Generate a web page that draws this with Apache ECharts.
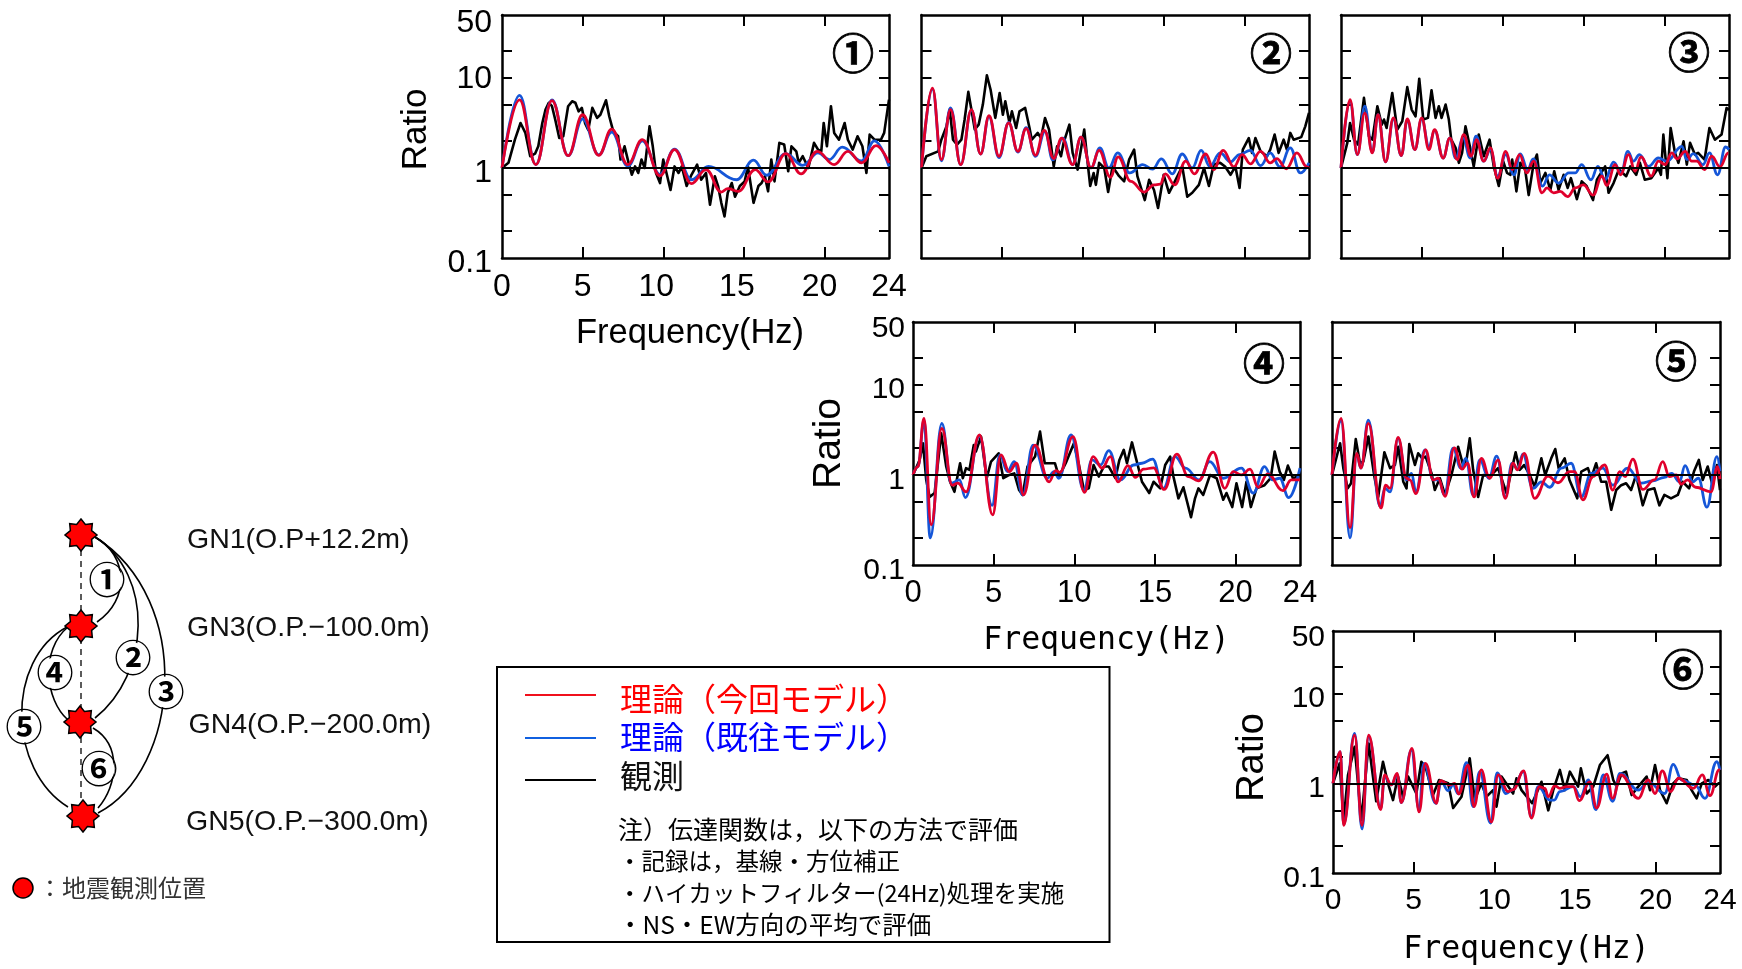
<!DOCTYPE html>
<html>
<head>
<meta charset="utf-8">
<style>html,body{margin:0;padding:0;background:#fff}#c{width:1742px;height:969px}</style>
<script src="https://cdn.jsdelivr.net/npm/echarts@6/dist/echarts.min.js"></script>
</head>
<body>
<div id="c"></div>
<script>
const xLabels = [0,5,10,15,20,24];
const xTicks = [5,10,15,20];
const yLabels = [0.1,1,10,50];
const yTicks = [0.2,0.5,1,2,5,10,20];

const obs1 = [[0,1],[.4,1.14],[.8,2.06],[1.15,3.16],[1.45,2.45],[1.75,1.35],[2.05,1.44],[2.25,1.74],[2.5,3.16],[2.7,4.45],[2.9,5.3],[3.1,4.85],[3.3,3.45],[3.55,2.15],[3.8,2.25],[4.1,4.85],[4.35,5.5],[4.55,5.3],[4.75,4.25],[4.95,4.65],[5.15,3.15],[5.35,2.65],[5.6,4.65],[5.9,3.6],[6.1,3.9],[6.45,5.65],[6.65,3.75],[6.9,2.55],[7.2,2.25],[7.35,1.24],[7.6,1.74],[7.85,1.14],[8.05,.84],[8.25,1.04],[8.45,.88],[8.65,1.24],[8.85,1],[9.15,2.9],[9.35,1.74],[9.55,.88],[9.8,.68],[10,1.24],[10.2,.88],[10.45,.57],[10.7,1.04],[10.95,.88],[11.15,1.04],[11.45,.63],[11.75,.84],[12.1,1.09],[12.35,.74],[12.65,.88],[12.9,.39],[13.2,.81],[13.4,.63],[13.6,.41],[13.8,.29],[14,.53],[14.25,.68],[14.45,.48],[14.75,.63],[15.05,.71],[15.25,1.04],[15.6,.41],[15.9,.63],[16.1,.68],[16.3,.81],[16.5,.55],[16.7,1.24],[16.9,.71],[17.2,1.9],[17.5,1.82],[17.75,.92],[17.95,1.74],[18.25,1.53],[18.4,1.14],[18.65,1.35],[19,1],[19.35,1.9],[19.6,1.6],[19.8,1.53],[19.95,3.16],[20.15,1.74],[20.4,4.85],[20.6,2.45],[20.9,2.06],[21.25,3.16],[21.45,2.06],[21.75,1.6],[22.05,2.25],[22.35,1.74],[22.6,.88],[22.8,2.35],[23.1,2.06],[23.5,2.06],[23.7,2.45],[24,5.75]];
const red1 = [[0,1],[1.09,5.7],[2.1,1.09],[3.1,5.6],[4.1,1.37],[5,3.9],[6,1.38],[6.8,2.7],[7.8,1.09],[8.7,2.06],[9.8,.82],[10.7,1.6],[11.75,.67],[12.65,.96],[13.6,.54],[14,.59],[14.65,.55],[15.7,.96],[16.5,.7],[17.6,1.44],[18.55,.86],[19.55,1.53],[20.6,1.09],[21.45,1.53],[22.3,1.14],[23.2,1.77],[24,1.14]];
const blue1 = [[0,1],[1.09,6.4],[2.1,1.09],[3.1,5.7],[4.1,1.37],[5,3.5],[6,1.4],[6.8,2.5],[7.8,1.05],[8.7,2.0],[9.8,.85],[10.7,1.62],[11.75,.74],[12.8,1.04],[14.55,.74],[15.6,1.22],[16.4,.83],[17.6,1.44],[18.65,1.07],[19.6,1.47],[20.3,1.24],[21.1,1.7],[22.3,1.2],[23.1,2],[24,1.04]];

const obs2 = [[0,1],[.3,1.35],[1.03,1.53],[1.23,2.06],[1.55,2.9],[1.75,4.45],[1.95,2.06],[2.2,1.82],[2.47,2.06],[2.67,3.45],[2.9,7],[3.09,4.45],[3.3,2.67],[3.54,3.03],[3.8,5.06],[4.05,10.7],[4.28,7.4],[4.57,3.6],[4.84,6.8],[5.04,3.9],[5.19,5.5],[5.45,3.16],[5.6,4.26],[5.86,2.78],[6.07,4.26],[6.42,4.64],[6.69,2.78],[6.83,2.06],[7.2,2.45],[7.4,2.15],[7.65,3.59],[7.9,2.67],[8.19,1.04],[8.4,1.74],[8.64,1.35],[8.8,1.9],[9.16,3.03],[9.36,1.47],[9.67,.96],[10.08,2.67],[10.29,1.14],[10.45,.63],[10.66,.88],[10.8,.65],[11,1.14],[11.32,1],[11.56,.54],[11.83,1.04],[12.24,.81],[12.55,.71],[12.86,1.24],[13.17,1.6],[13.37,.81],[13.83,.44],[14.1,.74],[14.4,.57],[14.65,.36],[14.86,.6],[15,.84],[15.33,.53],[15.64,.68],[16.15,1.04],[16.46,.48],[16.77,.53],[17.18,.65],[17.5,1],[17.8,.63],[18.1,1.09],[18.5,1.14],[18.8,1.04],[19.14,.84],[19.44,1.04],[19.7,.6],[19.9,1.6],[20.27,2.15],[20.47,1.47],[20.68,2.15],[21,1.53],[21.4,1.35],[21.6,1.6],[21.87,2.35],[22.12,1.47],[22.43,2.06],[22.63,1.6],[22.84,2.45],[23.05,2.06],[23.52,2.2],[23.77,2.9],[24,4.1]];
const red2 = [[0,1],[.68,7.7],[1.23,1.24],[1.8,4.45],[2.43,1.09],[3.09,4.45],[3.66,1.43],[4.18,3.8],[4.8,1.35],[5.4,3.16],[5.97,1.53],[6.48,2.73],[7.06,1.38],[7.6,2.62],[8.19,1.27],[8.68,2.15],[9.36,1.09],[9.88,2.2],[10.5,1],[11,1.57],[11.7,.79],[12.18,1.33],[12.96,.71],[13.79,.54],[14.4,.65],[14.78,.66],[15.1,.86],[15.68,.65],[16.36,1.19],[16.9,.86],[17.6,1.43],[18.1,.96],[18.68,1.57],[19.34,1.03],[19.86,1.41],[20.37,1.11],[21,1.53],[21.6,1.14],[22,1.27],[22.6,.98],[23.25,1.47],[23.87,1.03],[24,1]];
const blue2 = [[0,1],[.68,7.5],[1.23,1.2],[1.8,4.65],[2.43,1.09],[3.09,4.4],[3.66,1.43],[4.18,3.7],[4.8,1.3],[5.4,3.2],[5.97,1.5],[6.48,2.8],[7.06,1.35],[7.65,2.55],[8.13,1.23],[8.75,2.15],[9.36,1.09],[9.88,2.2],[10.5,1],[11.05,1.67],[11.6,1],[12.15,1.47],[12.9,.88],[13.7,1.09],[14.3,.97],[14.86,1.26],[15.53,.86],[16.15,1.43],[16.77,1],[17.32,1.57],[17.86,1.04],[18.5,1.47],[19.14,1.17],[19.7,1.41],[20.37,1.57],[21,1.06],[21.6,1.47],[22.2,1.03],[22.84,1.67],[23.46,.88],[24,1.14]];

const obs3 = [[0,1],[.39,1.9],[.56,3.16],[.81,2.06],[1.05,1.82],[1.42,6],[1.73,2.25],[1.94,2.06],[2.25,4.85],[2.52,3.03],[2.66,3.45],[2.82,2.78],[3.17,6.8],[3.48,2.67],[3.79,3.3],[4.1,7.9],[4.37,4.45],[4.61,3.75],[4.84,9.8],[5.09,3.45],[5.38,3.6],[5.6,7.3],[5.85,3.6],[6.05,4.85],[6.22,3.6],[6.47,5.06],[6.67,3.45],[6.82,2.06],[7.09,1.67],[7.29,1.14],[7.49,1.47],[7.7,2.9],[7.97,1.74],[8.21,1.04],[8.52,2.35],[8.83,1.35],[9.19,2.06],[9.45,1.04],[9.76,.63],[10.03,1.19],[10.27,.88],[10.48,.84],[10.59,1.24],[10.85,.55],[11.09,1.14],[11.39,.96],[11.61,.5],[11.92,1.14],[12.12,1.41],[12.33,.68],[12.64,.88],[12.95,.57],[13.19,.92],[13.46,.57],[13.77,.84],[14.02,.6],[14.22,.77],[14.59,.45],[14.89,.71],[15.19,.63],[15.59,.44],[15.83,.74],[16.34,1.04],[16.55,.53],[16.86,.68],[17.19,.96],[17.64,.81],[17.89,1.04],[18.26,.84],[18.49,1.14],[18.79,.74],[19.19,.77],[19.63,1],[19.79,.84],[19.94,2.35],[20.19,.77],[20.39,2.78],[20.66,1.47],[20.87,1.14],[21.19,1.98],[21.39,1.09],[21.59,1.9],[21.89,1.41],[22.09,1.47],[22.49,1.24],[22.79,2.78],[23.13,2.06],[23.54,2.35],[23.85,4.64],[24,4.4]];
const red3 = [[0,1],[.56,5.75],[1.01,1.41],[1.47,4.07],[1.94,1.47],[2.29,3.92],[2.76,1.17],[3.24,3.6],[3.73,1.37],[4.1,3.5],[4.57,1.6],[4.99,3.6],[5.44,1.6],[5.79,2.67],[6.32,1.29],[6.73,2.15],[7.19,1.24],[7.59,2.35],[8.05,1.35],[8.38,2.06],[8.83,1.19],[9.24,1.67],[9.69,.77],[10.19,1.53],[10.59,.96],[11.05,1.41],[11.49,.88],[11.92,1.19],[12.43,.53],[12.74,.6],[13.15,.53],[13.56,.55],[14.02,.48],[14.49,.6],[14.99,.65],[15.59,.5],[16.14,.81],[16.44,.64],[16.96,1.09],[17.29,.84],[17.79,1.41],[18.19,.92],[18.56,1.33],[19.19,.81],[19.63,1.19],[20.05,1.09],[20.46,1.47],[20.79,1.26],[21.29,1.53],[21.69,1.19],[22,1.19],[22.49,.96],[22.93,1.35],[23.44,1.03],[23.96,1.47],[24,1.47]];
const blue3 = [[0,1],[.56,5.5],[1.01,1.41],[1.47,4.85],[1.94,1.5],[2.29,3.92],[2.76,1.17],[3.24,3.5],[3.73,1.37],[4.1,3.4],[4.57,1.6],[4.99,3.5],[5.44,1.74],[5.79,2.62],[6.32,1.29],[6.73,2.15],[7.09,1.29],[7.56,2.15],[7.99,1.29],[8.36,2.25],[8.83,1.19],[9.24,1.6],[9.69,.81],[10.19,1.41],[10.69,.84],[11.09,1.43],[11.55,.96],[11.89,1.26],[12.47,.63],[12.89,.84],[13.46,.68],[14.09,.88],[14.49,.88],[14.89,1.09],[15.46,.74],[15.89,1.04],[16.34,.74],[16.86,1.16],[17.33,.88],[17.74,1.53],[18.09,1.19],[18.46,1.41],[19.02,1.04],[19.63,1.29],[20.15,1.19],[21.09,1.74],[21.39,1.24],[21.79,1.44],[22.39,1.09],[22.79,1.47],[23.29,.84],[23.79,1.71],[24,1.6]];

const obs4 = [[0,1],[.41,1.47],[.62,2.25],[.82,.88],[1.03,.57],[1.34,.63],[1.75,2.9],[2.06,1.24],[2.3,.84],[2.57,.65],[2.92,1.35],[3.09,.92],[3.29,1.19],[3.5,1.14],[3.77,2.15],[3.9,1.82],[4.22,2.67],[4.57,.92],[4.84,1.41],[5.31,1.74],[5.6,.92],[5.97,1],[6.28,1.04],[6.58,.68],[6.8,.6],[7.1,1.24],[7.57,1.6],[7.88,3.03],[8.17,1.35],[8.48,1.35],[8.8,1.35],[9.05,.96],[9.47,1.35],[9.98,2.25],[10.29,1.29],[10.6,.68],[10.9,.71],[11.2,1.29],[11.52,.96],[11.83,1.24],[12.14,1.24],[12.55,.92],[12.8,1.47],[13.07,1.9],[13.27,1.35],[13.58,2.3],[13.83,1.53],[14.2,.84],[14.65,.63],[14.92,.84],[15.33,.71],[15.64,1.29],[15.95,1.6],[16.15,.96],[16.46,.55],[16.77,.73],[17.24,.34],[17.49,.55],[17.7,.71],[18,.6],[18.42,1],[18.83,.92],[19.24,.53],[19.44,.63],[19.8,.44],[20.06,.81],[20.41,.44],[20.68,.84],[20.95,.44],[21.3,.71],[21.8,.77],[22.18,.92],[22.43,1.82],[22.74,1.09],[23,.88],[23.25,1.27],[23.56,.92],[23.87,.96],[24,1]];
const red4 = [[0,1],[.31,1.24],[.68,4.26],[1.13,.28],[1.79,3.3],[2.43,.77],[2.78,.81],[3.29,.65],[4.12,2.78],[4.94,.36],[5.45,1.67],[5.97,1.09],[6.42,1.35],[6.85,.6],[7.57,2.15],[8.44,.84],[8.85,1.12],[9.1,1.07],[9.92,2.67],[10.64,.64],[11.17,1.6],[11.73,1.19],[12.24,1.6],[12.72,.84],[13.33,1.27],[13.79,.94],[14.3,1.16],[14.92,1.2],[15.58,.69],[16.36,1.7],[17.08,.96],[17.7,.86],[18.62,1.79],[19.34,.71],[19.86,1.09],[20.37,1],[20.9,1.16],[21.4,.73],[22,1.03],[22.94,.67],[23.46,.88],[24,.88]];
const blue4 = [[0,1],[.31,1.24],[.68,4],[1.07,.2],[1.79,3.75],[2.37,.81],[2.88,.88],[3.25,.56],[4.12,2.7],[4.9,.46],[5.39,1.67],[5.86,1.09],[6.28,1.41],[6.8,.6],[7.45,2.15],[8.33,.92],[8.75,1.09],[9.05,.92],[9.8,2.78],[10.6,.68],[11.1,1.47],[11.63,1.29],[12.14,1.86],[12.86,.88],[13.68,1.29],[14.2,1.35],[14.86,1.5],[15.53,.71],[16.25,1.6],[16.9,1.19],[17.74,.88],[18.4,1.41],[19.24,.92],[20.37,1.19],[21.1,.63],[21.8,1.24],[22.3,.88],[22.74,.92],[23.3,.56],[24,1.19]];

const obs5 = [[0,1],[.5,2.25],[.7,1.19],[.97,.71],[1.18,.81],[1.47,2.5],[1.73,1.35],[1.94,1.41],[2.25,2.67],[2.62,.96],[2.86,.57],[3.24,1.79],[3.59,1.19],[3.89,1.29],[4.1,2.06],[4.41,.84],[4.61,.71],[4.78,2.2],[5.13,1.29],[5.33,1.74],[5.58,1.53],[5.79,1.6],[6.16,1.04],[6.36,.68],[6.67,.92],[6.99,.6],[7.39,1],[7.8,2.06],[8.11,1.29],[8.32,1.47],[8.52,2.55],[8.73,1.14],[9.04,.57],[9.35,1],[9.76,.96],[10.27,1.19],[10.79,.63],[11.09,1.09],[11.36,1.79],[11.61,1.14],[11.89,1.29],[12.23,1],[12.54,.74],[12.95,1.53],[13.19,1],[13.56,1.53],[13.81,1.94],[14.02,1.19],[14.39,1.53],[14.69,.88],[15.17,.55],[15.42,1.09],[15.83,1.19],[16.03,.92],[16.34,1.35],[16.65,.84],[16.96,.84],[17.27,.41],[17.58,.68],[17.89,.77],[18.19,.81],[18.5,.68],[18.81,1],[19.22,.46],[19.53,.68],[19.94,.71],[20.25,.46],[20.56,.6],[20.97,.55],[21.39,.6],[21.69,.84],[22.09,.71],[22.39,1.09],[22.69,1.47],[22.93,.88],[23.24,1.24],[23.54,.77],[23.81,1.29],[24,.68]];
const red5 = [[0,1],[.56,4.26],[1.12,.26],[1.53,1.74],[1.79,1.19],[2.25,3.75],[3.03,.43],[3.32,.77],[3.59,.71],[4.09,2.62],[4.61,.92],[4.82,.88],[5.19,.62],[5.79,1.9],[6.26,.88],[6.57,.92],[6.99,.58],[7.56,2],[8.05,1.16],[8.38,1.35],[8.79,.57],[9.24,1.53],[9.76,.92],[10.27,1.47],[10.72,.55],[11.19,1.35],[11.47,1.14],[11.89,1.74],[12.54,.55],[13.36,.97],[13.98,.82],[14.69,1.09],[15,1.09],[15.52,.53],[16.14,.96],[16.86,1.29],[17.37,.68],[17.79,1.09],[18.13,.96],[18.61,1.5],[19.22,.69],[19.94,.88],[20.46,1.41],[20.87,.96],[21.29,1],[21.59,.79],[21.99,.88],[22.49,.73],[23.44,.65],[23.85,1.24],[24,.9]];
const blue5 = [[0,1],[.56,4],[1.12,.2],[1.53,1.7],[1.79,1.19],[2.25,4.07],[2.97,.45],[3.28,.71],[3.59,.65],[4.09,2.55],[4.61,.88],[4.92,1.04],[5.19,.65],[5.75,1.9],[6.26,.88],[6.6,.88],[6.95,.6],[7.49,1.98],[7.97,1.19],[8.28,1.53],[8.73,.6],[9.14,1.47],[9.7,.92],[10.19,1.62],[10.72,.57],[11.14,1.35],[11.5,1.16],[11.8,1.7],[12.43,.71],[12.95,.84],[13.46,.73],[14.19,1.19],[14.79,1.35],[15.42,.57],[16.03,1.04],[16.75,1.19],[17.37,.77],[18.29,1.19],[19.12,.81],[19.84,.86],[20.56,.94],[21.01,1.04],[21.49,.84],[21.84,1.27],[22.31,.84],[22.66,.92],[23.19,.44],[23.81,1.6],[24,1.1]];

const obs6 = [[0,1],[.41,1.67],[.66,.39],[.93,1.24],[1.34,2.55],[1.76,.39],[2.21,2.78],[2.68,.63],[3.1,1.74],[3.41,1],[3.72,.65],[4.03,1.19],[4.34,.71],[4.66,1.19],[5.17,.77],[5.48,1.74],[5.79,1.41],[6.2,.74],[6.58,1.09],[7.14,1],[7.45,.53],[7.97,.71],[8.48,1.9],[8.79,.65],[9.2,1],[9.52,.71],[9.93,.84],[10.14,.55],[10.45,1.19],[11.17,.77],[11.38,1.14],[11.69,.84],[12.35,.6],[12.93,1.04],[13.35,.5],[13.66,.84],[14.07,1.41],[14.38,.84],[14.69,1.35],[15.2,.92],[15.37,1.47],[15.73,.77],[16.14,.92],[16.55,1.6],[17.03,2.06],[17.38,1.09],[17.59,.92],[17.9,1.29],[18.17,1.35],[18.52,.74],[18.93,.92],[19.45,1.19],[19.66,.84],[19.97,1.6],[20.28,.84],[20.69,.6],[21.1,1],[21.42,1.14],[21.94,1.09],[22.24,.84],[22.55,.68],[22.87,1],[23.28,1.09],[23.69,.92],[23.9,1],[24,1]];
const red6 = [[0,1],[.45,2.25],[.66,.34],[1.34,3.44],[1.8,.34],[2.21,3.44],[2.96,.51],[3.2,1.24],[3.62,.96],[3.97,1.29],[4.24,.61],[4.9,2.45],[5.34,.48],[5.73,1.67],[6.41,.6],[6.66,1.07],[7.24,.96],[7.55,1],[7.8,.76],[8.38,1.6],[8.75,.55],[9.2,1.41],[9.83,.37],[10.24,1.24],[10.86,.81],[11.17,.85],[11.83,1.38],[12.3,.41],[12.79,.92],[13.14,.88],[13.35,.71],[13.76,.94],[14.07,.88],[14.48,.92],[14.9,.92],[15.27,.64],[15.93,1.04],[16.35,.53],[16.97,1.27],[17.34,.68],[17.86,1.24],[18.93,.68],[19.55,1.09],[19.97,.77],[20.42,1.38],[20.94,.81],[21.42,1.14],[22.35,.88],[22.9,1.24],[23.38,.73],[23.95,1.41],[24,1.4]];
const blue6 = [[0,1],[.45,2.25],[.66,.35],[1.34,3.6],[1.8,.31],[2.21,3.3],[2.96,.53],[3.2,1.19],[3.62,.96],[3.97,1.24],[4.24,.61],[4.86,2.35],[5.34,.51],[5.63,1.67],[6.37,.6],[6.72,1.04],[7.14,.83],[7.45,.96],[7.76,.77],[8.28,1.7],[8.69,.55],[9.1,1.35],[9.77,.36],[10.18,1.31],[10.72,.77],[11.17,.85],[11.79,1.35],[12.3,.43],[12.72,.92],[13.45,.65],[13.72,.65],[14.07,.81],[14.9,.92],[15.35,.71],[15.83,1.09],[16.3,.51],[16.76,1.24],[17.34,.63],[17.8,1.29],[18.93,.84],[19.55,1.04],[20.57,.77],[21.1,1.63],[21.62,1.09],[22.45,.96],[23.07,.68],[23.8,1.74],[24,1.41]];

const seriesNames = {obs:'観測', blue:'理論（既往モデル）', red:'理論（今回モデル）'};
const axisName = {x:'Frequency(Hz)', y:'Ratio'};
const noteLines = ['注）伝達関数は，以下の方法で評価','・記録は，基線・方位補正','・ハイカットフィルター(24Hz)処理を実施','・NS・EW方向の平均で評価'];
const stationLabels = ['GN1(O.P+12.2m)','GN3(O.P.−100.0m)','GN4(O.P.−200.0m)','GN5(O.P.−300.0m)'];
const circled = ['①','②','③','④','⑤','⑥'];

const RED='#e0002c', BLUE='#1556d8', CJK='"Noto Sans CJK JP","Noto Sans",sans-serif', SANS='"Liberation Sans",Arial,sans-serif', MONO='"DejaVu Sans Mono",monospace';

const panels = [
 {obs:obs1,red:red1,blue:blue1,l:502,r:889,t:15,b:258,labels:true,font:SANS,size:32,xSize:32,xMargin:13,yMargin:10,xPadRight:{10:14,15:14,20:10},xNameFont:SANS,xNameSize:34.5,xNameGap:58,xNamePad:[0,11,0,0],ratioGap:68,ratioSize:35,ratioPad:[0,0,0,14],mark:[853,53]},
 {obs:obs2,red:red2,blue:blue2,l:921.5,r:1309,t:15,b:258,labels:false,mark:[1271,53]},
 {obs:obs3,red:red3,blue:blue3,l:1341,r:1729,t:15,b:258,labels:false,mark:[1689,52]},
 {obs:obs4,red:red4,blue:blue4,l:913,r:1300,t:322,b:565,labels:true,font:SANS,size:30,xSize:31,xMargin:13,yMargin:8,xPadRight:{},xNameFont:MONO,xNameSize:31.5,xNameGap:60,xNamePad:[0,0,0,0],ratioGap:64,ratioSize:39,ratioPad:[0,0,0,0],mark:[1264,363]},
 {obs:obs5,red:red5,blue:blue5,l:1332,r:1720,t:322,b:565,labels:false,mark:[1676,361]},
 {obs:obs6,red:red6,blue:blue6,l:1333,r:1720,t:631,b:873,labels:true,font:SANS,size:30,xSize:30,xMargin:13,yMargin:8,xPadRight:{},xNameFont:MONO,xNameSize:31.5,xNameGap:61,xNamePad:[0,0,0,0],ratioGap:61,ratioSize:38,ratioPad:[0,11,0,0],mark:[1683,669]}
];

const grid=[],xAxis=[],yAxis=[],series=[],graphic=[];
const LW=2.5;
panels.forEach((p,i)=>{
  grid.push({left:p.l,top:p.t,width:p.r-p.l,height:p.b-p.t,outerBoundsMode:'none',containLabel:false});
  const line={show:true,onZero:false,lineStyle:{color:'#000',width:LW}};
  const xTick={show:true,inside:true,length:11,customValues:xTicks,lineStyle:{color:'#000',width:2}};
  const yTick={show:true,inside:true,length:10,customValues:yTicks,lineStyle:{color:'#000',width:2}};
  const xRich={};
  if(p.labels){ xLabels.forEach(v=>{xRich['v'+v]={fontFamily:p.font,fontSize:p.xSize,color:'#000',padding:[0,(p.xPadRight[v]||0),0,0]};}); }
  xAxis.push({gridIndex:i,type:'value',min:0,max:24,position:'bottom',axisLine:line,axisTick:xTick,splitLine:{show:false},
    axisLabel:p.labels?{show:true,customValues:xLabels,margin:p.xMargin,color:'#000',fontFamily:p.font,fontSize:p.xSize,formatter:v=>'{v'+v+'|'+v+'}',rich:xRich,hideOverlap:false}:{show:false},
    name:p.labels?axisName.x:'',nameLocation:'middle',nameGap:p.xNameGap||0,nameMoveOverlap:false,nameTextStyle:{color:'#000',fontFamily:p.xNameFont,fontSize:p.xNameSize,padding:p.xNamePad||0}});
  xAxis.push({gridIndex:i,type:'value',min:0,max:24,position:'top',axisLine:line,axisTick:xTick,splitLine:{show:false},axisLabel:{show:false}});
  yAxis.push({gridIndex:i,type:'log',logBase:10,min:0.1,max:50,position:'left',axisLine:line,axisTick:yTick,splitLine:{show:false},minorTick:{show:false},
    axisLabel:p.labels?{show:true,customValues:yLabels,margin:p.yMargin,color:'#000',fontFamily:p.font,fontSize:p.size,hideOverlap:false,
      formatter:v=>(v===50?'{t|50}':v===10?'{n|10}':'{m|'+v+'}'),
      rich:{t:{fontFamily:p.font,fontSize:p.size,color:'#000',padding:[i===0?16:14,0,0,0]},
            n:{fontFamily:p.font,fontSize:p.size,color:'#000',padding:[i===0?2:10,0,0,0]},
            m:{fontFamily:p.font,fontSize:p.size,color:'#000',padding:[11,0,0,0]}}}:{show:false},
    name:p.labels?axisName.y:'',nameLocation:'middle',nameGap:p.ratioGap||0,nameRotate:90,nameMoveOverlap:false,nameTextStyle:{color:'#000',fontFamily:SANS,fontSize:p.ratioSize,padding:p.ratioPad||0}});
  yAxis.push({gridIndex:i,type:'log',logBase:10,min:0.1,max:50,position:'right',axisLine:line,axisTick:yTick,splitLine:{show:false},axisLabel:{show:false}});
  const xi=i*2, yi=i*2;
  series.push({type:'line',name:seriesNames.obs,xAxisIndex:xi,yAxisIndex:yi,data:p.obs,showSymbol:false,lineStyle:{color:'#000',width:2.6,join:'round'},itemStyle:{color:'#000'},z:2,
    markLine:{silent:true,symbol:'none',animation:false,label:{show:false},lineStyle:{color:'#000',width:2,type:'solid'},data:[{yAxis:1}]}});
  series.push({type:'line',name:seriesNames.blue,xAxisIndex:xi,yAxisIndex:yi,data:p.blue,showSymbol:false,smooth:0.42,smoothMonotone:'x',lineStyle:{color:BLUE,width:2.8},itemStyle:{color:BLUE},z:3});
  series.push({type:'line',name:seriesNames.red,xAxisIndex:xi,yAxisIndex:yi,data:p.red,showSymbol:false,smooth:0.42,smoothMonotone:'x',lineStyle:{color:RED,width:2.8},itemStyle:{color:RED},z:4});
  graphic.push({type:'text',x:p.mark[0],y:p.mark[1],z:10,style:{text:circled[i],fontFamily:CJK,fontSize:42,fontWeight:'bold',fill:'#000',stroke:'#000',lineWidth:0.8,align:'center',verticalAlign:'middle'}});
});

// Legend box
const tx=(s,x,y,size,fill,font,align)=>({type:'text',x,y,z:10,style:{text:s,fontFamily:font||CJK,fontSize:size,fill:fill||'#000',align:align||'left',verticalAlign:'middle'}});
const ln=(x1,y1,x2,y2,c,w,dash)=>({type:'line',z:3,shape:{x1,y1,x2,y2},style:{stroke:c,lineWidth:w,lineDash:dash||null}});
graphic.push({type:'rect',z:1,shape:{x:497,y:667,width:612.5,height:275},style:{fill:'#fff',stroke:'#000',lineWidth:2}});
graphic.push(ln(525,695,596,695,'#f0101c',2));
graphic.push(ln(525,738,596,738,'#1060e0',2));
graphic.push(ln(525,780,596,780,'#000',2));
graphic.push(tx(seriesNames.red,620,699,32,'#ff0000'));
graphic.push(tx(seriesNames.blue,620,737,32,'#0000ff'));
graphic.push(tx(seriesNames.obs,620,776,32,'#111'));
const noteSizes=[25,23.5,23.5,24.5];
noteLines.forEach((s,i)=>graphic.push(tx(s,618,829+i*32,noteSizes[i],'#000')));

// Station diagram
const stars=[[81,535],[81,626],[80,722],[83,816]];
const starPts=(cx,cy)=>{const pts=[];for(let k=0;k<16;k++){const a=-Math.PI/2+k*Math.PI/8,r=k%2?11.5:16;pts.push([cx+r*Math.cos(a),cy+r*Math.sin(a)]);}return pts;};
const curve=(x1,y1,cpx1,cpy1,cpx2,cpy2,x2,y2)=>({type:'bezierCurve',z:2,shape:{x1,y1,cpx1,cpy1,cpx2,cpy2,x2,y2},style:{stroke:'#000',lineWidth:1.6,fill:null}});
graphic.push(ln(81,550,81,800,'#333',1.6,[6,5]));
graphic.push(curve(95,537,128,555,130,600,97,622));
graphic.push(curve(95,537,155,575,150,675,95,718));
graphic.push(curve(95,537,195,600,180,770,98,813));
graphic.push(curve(68,627,40,650,45,700,68,720));
graphic.push(curve(67,627,5,660,8,770,68,807));
graphic.push(curve(93,728,122,745,118,785,98,808));
stars.forEach(s=>graphic.push({type:'polygon',z:5,shape:{points:starPts(s[0],s[1])},style:{fill:'#ff0000',stroke:'#000',lineWidth:1.5}}));
const marks=[[107,580],[133,658],[166,692],[55,673],[24,727],[99,769]];
marks.forEach((m,i)=>{
  graphic.push({type:'circle',z:6,shape:{cx:m[0],cy:m[1],r:15.5},style:{fill:'#fff',stroke:null}});
  graphic.push({type:'text',x:m[0],y:m[1],z:7,style:{text:circled[i],fontFamily:CJK,fontSize:37,fontWeight:'bold',fill:'#000',align:'center',verticalAlign:'middle'}});
});
[[187,540.5],[187,628],[188.5,725.5],[186,822]].forEach((p,i)=>graphic.push(tx(stationLabels[i],p[0],p[1],28.5,'#111',SANS)));
graphic.push({type:'circle',z:5,shape:{cx:23,cy:888,r:10},style:{fill:'#ff0000',stroke:'#000',lineWidth:1.5}});
graphic.push(tx('：地震観測位置',38,888,24,'#333'));

const chart=echarts.init(document.getElementById('c'),null,{renderer:'canvas'});
chart.setOption({animation:false,backgroundColor:'#fff',grid,xAxis,yAxis,series,graphic});
</script>
</body>
</html>
